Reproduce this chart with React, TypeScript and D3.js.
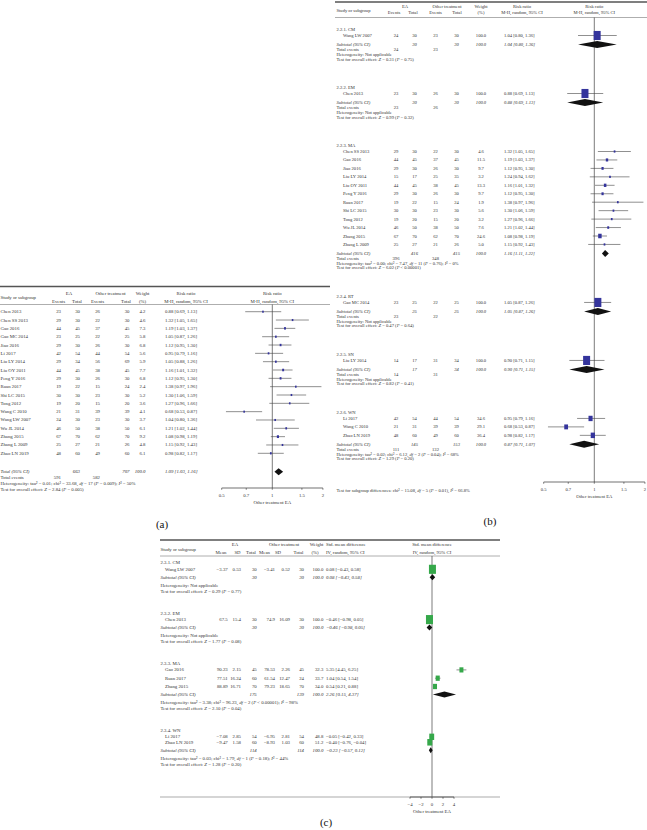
import React from "react";
import * as d3 from "d3";

const FONT = "'Liberation Serif', 'Times New Roman', Times, serif";
const INK = "#333";
const BLUE = "#34349c";
const GREEN = "#35a84a";

// ---------- (a) all studies, risk ratio ----------
const studiesA = ["Chen 2013", "Chen SS 2013", "Gao 2016", "Gao MC 2014", "Jiao 2016", "Li 2017", "Liu LY 2014", "Liu OY 2011", "Peng Y 2016", "Ruan 2017", "Shi LC 2015", "Tong 2012", "Wang C 2010", "Wang LW 2007", "Wu JL 2014", "Zhang 2015", "Zhang L 2009", "Zhao LN 2019"];
const eaEventsA = [23, 29, 44, 23, 29, 42, 29, 44, 29, 19, 30, 19, 21, 24, 46, 67, 25, 48];
const eaTotalA = [30, 30, 45, 25, 30, 54, 34, 45, 30, 22, 30, 20, 31, 30, 50, 70, 27, 60];
const otEventsA = [26, 22, 37, 22, 26, 44, 56, 38, 26, 15, 23, 15, 39, 23, 38, 62, 21, 49];
const otTotalA = [30, 30, 45, 25, 30, 54, 69, 45, 30, 24, 30, 20, 39, 30, 50, 70, 26, 60];
const weightA = [4.2, 4.6, 7.3, 5.8, 6.8, 5.6, 5.9, 7.7, 6.8, 2.4, 5.2, 3.6, 4.1, 3.7, 6.1, 9.2, 4.8, 6.1];
const rrA = [0.88, 1.32, 1.19, 1.05, 1.12, 0.95, 1.05, 1.16, 1.12, 1.38, 1.30, 1.27, 0.68, 1.04, 1.21, 1.08, 1.15, 0.98];
const loA = [0.69, 1.05, 1.03, 0.87, 0.95, 0.79, 0.88, 1.01, 0.95, 0.97, 1.06, 0.96, 0.53, 0.80, 1.02, 0.98, 0.92, 0.82];
const hiA = [1.13, 1.65, 1.37, 1.26, 1.30, 1.16, 1.26, 1.32, 1.30, 1.96, 1.59, 1.66, 0.87, 1.36, 1.44, 1.19, 1.43, 1.17];
const totalsA = [663, 707];
const totalEventsA = [591, 582];
const pooledA = [1.09, 1.03, 1.16];
const hetA = "Heterogeneity: tau² = 0.01; chi² = 33.68, df = 17 (P = 0.009); I² = 50%";
const testA = "Test for overall effect: Z = 2.84 (P = 0.005)";
const rrTicks = [0.5, 0.7, 1, 1.5, 2];

// ---------- (b) subgroups, risk ratio ----------
const groupsB = ["2.2.1. CM", "2.2.2. EM", "2.2.3. MA", "2.2.4. RT", "2.2.5. SN", "2.2.6. WN"];
const studiesB = [
  ["Wang LW 2007"],
  ["Chen 2013"],
  ["Chen SS 2013", "Gao 2016", "Jiao 2016", "Liu LY 2014", "Liu OY 2011", "Peng Y 2016", "Ruan 2017", "Shi LC 2015", "Tong 2012", "Wu JL 2014", "Zhang 2015", "Zhang L 2009"],
  ["Gao MC 2014"],
  ["Liu LY 2014"],
  ["Li 2017", "Wang C 2010", "Zhao LN 2019"],
];
const eaEventsB = [[24], [23], [29, 44, 29, 15, 44, 29, 19, 30, 19, 46, 67, 25], [23], [14], [42, 21, 48]];
const eaTotalB = [[30], [30], [30, 45, 30, 17, 45, 30, 22, 30, 20, 50, 70, 27], [25], [17], [54, 31, 60]];
const otEventsB = [[23], [26], [22, 37, 26, 25, 38, 26, 15, 23, 15, 38, 62, 21], [22], [31], [44, 39, 49]];
const otTotalB = [[30], [30], [30, 45, 30, 35, 45, 30, 24, 30, 20, 50, 70, 26], [25], [34], [54, 39, 60]];
const weightB = [[100], [100], [4.6, 11.5, 9.7, 3.2, 13.3, 9.7, 1.9, 5.6, 3.2, 7.6, 24.6, 5.0], [100], [100], [34.6, 29.1, 36.4]];
const rrB = [[1.04], [0.88], [1.32, 1.19, 1.12, 1.24, 1.16, 1.12, 1.38, 1.30, 1.27, 1.21, 1.08, 1.15], [1.05], [0.90], [0.95, 0.68, 0.98]];
const loB = [[0.80], [0.69], [1.05, 1.03, 0.95, 0.94, 1.01, 0.95, 0.97, 1.06, 0.96, 1.02, 0.98, 0.92], [0.87], [0.71], [0.79, 0.53, 0.82]];
const hiB = [[1.36], [1.13], [1.65, 1.37, 1.30, 1.62, 1.32, 1.30, 1.96, 1.59, 1.66, 1.44, 1.19, 1.43], [1.26], [1.15], [1.16, 0.87, 1.17]];
const subTotalsB = [[30, 30], [30, 30], [416, 415], [25, 25], [17, 34], [145, 153]];
const subEventsB = [[24, 23], [23, 26], [396, 348], [23, 22], [14, 31], [111, 132]];
const pooledB = [[1.04, 0.80, 1.36], [0.88, 0.69, 1.13], [1.16, 1.11, 1.22], [1.05, 0.87, 1.26], [0.90, 0.71, 1.15], [0.87, 0.71, 1.07]];
const hetB = [
  "Heterogeneity: Not applicable",
  "Heterogeneity: Not applicable",
  "Heterogeneity: tau² = 0.00; chi² = 7.47, df = 11 (P = 0.76); I² = 0%",
  "Heterogeneity: Not applicable",
  "Heterogeneity: Not applicable",
  "Heterogeneity: tau² = 0.02; chi² = 6.12, df = 2 (P = 0.04); I² = 68%",
];
const testB = [
  "Test for overall effect: Z = 0.31 (P = 0.75)",
  "Test for overall effect: Z = 0.99 (P = 0.32)",
  "Test for overall effect: Z = 6.02 (P < 0.00001)",
  "Test for overall effect: Z = 0.47 (P = 0.64)",
  "Test for overall effect: Z = 0.82 (P = 0.41)",
  "Test for overall effect: Z = 1.29 (P = 0.20)",
];
const subgroupDiffB = "Test for subgroup differences: chi² = 15.08, df = 5 (P = 0.01), I² = 66.8%";

// ---------- (c) subgroups, std. mean difference ----------
const groupsC = ["2.3.1. CM", "2.3.2. EM", "2.3.3. MA", "2.3.4. WN"];
const studiesC = [["Wang LW 2007"], ["Chen 2013"], ["Gao 2016", "Ruan 2017", "Zhang 2015"], ["Li 2017", "Zhao LN 2019"]];
const eaMeanC = [[-3.37], [67.5], [90.23, 77.51, 88.89], [-7.08, -9.47]];
const eaSdC = [[0.53], [15.4], [2.15, 16.24, 16.71], [2.85, 1.58]];
const eaNC = [[30], [30], [45, 60, 70], [54, 60]];
const otMeanC = [[-3.41], [74.9], [78.53, 61.54, 79.23], [-6.95, -8.93]];
const otSdC = [[0.52], [16.09], [2.26, 12.47, 18.65], [2.81, 1.03]];
const otNC = [[30], [30], [45, 24, 70], [54, 60]];
const weightC = [[100], [100], [32.3, 33.7, 34.0], [48.8, 51.2]];
const smdC = [[0.08], [-0.46], [5.35, 1.04, 0.54], [-0.05, -0.40]];
const loC = [[-0.43], [-0.98], [4.45, 0.54, 0.21], [-0.42, -0.76]];
const hiC = [[0.58], [0.05], [6.25, 1.54, 0.88], [0.33, -0.04]];
const subTotalsC = [[30, 30], [30, 30], [175, 139], [114, 114]];
const pooledC = [[0.08, -0.43, 0.58], [-0.46, -0.98, 0.05], [2.26, 0.15, 4.37], [-0.23, -0.57, 0.12]];
const hetC = [
  "Heterogeneity: Not applicable",
  "Heterogeneity: Not applicable",
  "Heterogeneity: tau² = 3.38; chi² = 96.23, df = 2 (P < 0.00001); I² = 98%",
  "Heterogeneity: tau² = 0.03; chi² = 1.79, df = 1 (P = 0.18); I² = 44%",
];
const testC = [
  "Test for overall effect: Z = 0.29 (P = 0.77)",
  "Test for overall effect: Z = 1.77 (P = 0.08)",
  "Test for overall effect: Z = 2.10 (P = 0.04)",
  "Test for overall effect: Z = 1.28 (P = 0.20)",
];
const smdTicks = [-4, -2, 0, 2, 4];

const f2 = d3.format(".2f");
const f1 = d3.format(".1f");
const num = (v: number) => String(v).replace("-", "\u2212");
const ci = (e: number, l: number, h: number) => `${f2(e)} [${f2(l)}, ${f2(h)}]`;

type Anchor = "start" | "middle" | "end";
const Tx = ({ x, y, s, a = "start", it = false, children }: { x: number; y: number; s: number; a?: Anchor; it?: boolean; children: React.ReactNode }) => (
  <text x={x} y={y} fontSize={s} textAnchor={a} dominantBaseline="central" fontStyle={it ? "italic" : "normal"} fill={INK}>
    {children}
  </text>
);

// stat lines: df, Z, P and I are set in italics
const ITAL = /(\bdf\b|\bZ\b|\bP\b|\bI(?=²))/;
const Stat = ({ x, y, s, text }: { x: number; y: number; s: number; text: string }) => (
  <text x={x} y={y} fontSize={s} dominantBaseline="central" fill={INK}>
    {text.split(ITAL).map((p, i) => (
      <tspan key={i} fontStyle={i % 2 ? "italic" : "normal"}>{p}</tspan>
    ))}
  </text>
);

const Mark = ({ x, y, est, lo, hi, size, color }: any) => (
  <g>
    <line x1={x(lo)} x2={x(hi)} y1={y} y2={y} stroke="#444" strokeWidth={0.6} />
    <rect x={x(est) - size / 2} y={y - size * 0.65} width={size} height={size * 1.3} fill={color} />
  </g>
);

const Diamond = ({ x, y, est, lo, hi, h }: any) => (
  <path d={`M${x(lo)},${y}L${x(est)},${y - h / 2}L${x(hi)},${y}L${x(est)},${y + h / 2}Z`} fill="#111" />
);

const Axis = ({ x, y, ticks, fmt, s, mid }: any) => (
  <g>
    <line x1={x(ticks[0])} x2={x(ticks[ticks.length - 1])} y1={y} y2={y} stroke="#333" strokeWidth={0.7} />
    {ticks.map((t: number) => (
      <g key={t}>
        <line x1={x(t)} x2={x(t)} y1={y} y2={y + 1.8} stroke="#333" strokeWidth={0.6} />
        <Tx x={x(t)} y={y + 7.5} s={s} a="middle">{fmt(t)}</Tx>
      </g>
    ))}
    <Tx x={x(mid)} y={y + 14.5} s={s} a="middle">Other treatment EA</Tx>
  </g>
);

function PanelA() {
  const s = 4.8;
  const x = d3.scaleLog().domain([0.5, 2]).range([221.7, 322.9]);
  const y = (i: number) => 311.7 + 8.33 * i;
  const c = { ev1: 61, tot1: 80, ev2: 100, tot2: 129.5, w: 145.5, ci: 165 };
  const yTot = 471.7;
  return (
    <g>
      <line x1={0} x2={330} y1={286.5} y2={286.5} stroke="#555" strokeWidth={1.6} />
      <line x1={0} x2={330} y1={304.5} y2={304.5} stroke="#999" strokeWidth={0.8} />
      <Tx x={0.5} y={297.7} s={s}>Study or subgroup</Tx>
      <Tx x={69} y={293} s={s} a="middle">EA</Tx>
      <Tx x={58.5} y={301} s={s} a="middle">Events</Tx>
      <Tx x={77} y={301} s={s} a="middle">Total</Tx>
      <Tx x={110.5} y={293} s={s} a="middle">Other treatment</Tx>
      <Tx x={97.5} y={301} s={s} a="middle">Events</Tx>
      <Tx x={126} y={301} s={s} a="middle">Total</Tx>
      <Tx x={142.5} y={293} s={s} a="middle">Weight</Tx>
      <Tx x={142.5} y={301} s={s} a="middle">(%)</Tx>
      <Tx x={186} y={293} s={s} a="middle">Risk ratio</Tx>
      <Tx x={186} y={301} s={s} a="middle">M-H, random, 95% CI</Tx>
      <Tx x={x(1)} y={293} s={s} a="middle">Risk ratio</Tx>
      <Tx x={x(1)} y={301} s={s} a="middle">M-H, random, 95% CI</Tx>
      <line x1={x(1)} x2={x(1)} y1={304.5} y2={488} stroke="#444" strokeWidth={0.7} />
      {studiesA.map((name, i) => (
        <g key={name}>
          <Tx x={0.5} y={y(i)} s={s}>{name}</Tx>
          <Tx x={c.ev1} y={y(i)} s={s} a="end">{eaEventsA[i]}</Tx>
          <Tx x={c.tot1} y={y(i)} s={s} a="end">{eaTotalA[i]}</Tx>
          <Tx x={c.ev2} y={y(i)} s={s} a="end">{otEventsA[i]}</Tx>
          <Tx x={c.tot2} y={y(i)} s={s} a="end">{otTotalA[i]}</Tx>
          <Tx x={c.w} y={y(i)} s={s} a="end">{f1(weightA[i])}</Tx>
          <Tx x={c.ci} y={y(i)} s={s}>{ci(rrA[i], loA[i], hiA[i])}</Tx>
          <Mark x={x} y={y(i)} est={rrA[i]} lo={loA[i]} hi={hiA[i]} size={Math.max(1.6, 7 * Math.sqrt(weightA[i] / 100))} color={BLUE} />
        </g>
      ))}
      <Tx x={0.5} y={yTot} s={s} it>Total (95% CI)</Tx>
      <Tx x={c.tot1} y={yTot} s={s} a="end" it>{totalsA[0]}</Tx>
      <Tx x={c.tot2} y={yTot} s={s} a="end" it>{totalsA[1]}</Tx>
      <Tx x={c.w} y={yTot} s={s} a="end" it>100.0</Tx>
      <Tx x={c.ci} y={yTot} s={s} it>{ci(pooledA[0], pooledA[1], pooledA[2])}</Tx>
      <Diamond x={x} y={yTot} est={pooledA[0]} lo={pooledA[1]} hi={pooledA[2]} h={7} />
      <Tx x={0.5} y={477.7} s={s}>Total events</Tx>
      <Tx x={c.ev1} y={477.7} s={s} a="end">{totalEventsA[0]}</Tx>
      <Tx x={c.ev2} y={477.7} s={s} a="end">{totalEventsA[1]}</Tx>
      <Stat x={0.5} y={483.3} s={s} text={hetA} />
      <Stat x={0.5} y={488.9} s={s} text={testA} />
      <Axis x={x} y={488} ticks={rrTicks} fmt={String} s={s} mid={1} />
      <text x={162} y={524} fontSize={11} textAnchor="middle" dominantBaseline="central" fill="#111">(a)</text>
    </g>
  );
}

function PanelB() {
  const s = 4.6;
  const x = d3.scaleLog().domain([0.5, 2]).range([543.7, 644.9]);
  const c = { ev1: 396, tot1: 414.5, ev2: 435.5, tot2: 456.5, w: 481, ci: 504 };
  const blocks: any[] = [];
  let cy = 29.5;
  groupsB.forEach((g, gi) => {
    const ys = studiesB[gi].map((_, i) => cy + 6 + 8.45 * i);
    const sub = ys[ys.length - 1] + 9;
    blocks.push({ g, gi, head: cy, ys, sub });
    cy = sub + 14 + 29;
  });
  return (
    <g>
      <line x1={335} x2={647} y1={2} y2={2} stroke="#555" strokeWidth={1.6} />
      <line x1={335} x2={647} y1={17.5} y2={17.5} stroke="#999" strokeWidth={0.8} />
      <Tx x={336.5} y={10} s={s}>Study or subgroup</Tx>
      <Tx x={405} y={6.5} s={s} a="middle">EA</Tx>
      <Tx x={394} y={12.7} s={s} a="middle">Events</Tx>
      <Tx x={413} y={12.7} s={s} a="middle">Total</Tx>
      <Tx x={447} y={6.5} s={s} a="middle">Other treatment</Tx>
      <Tx x={435.5} y={12.7} s={s} a="middle">Events</Tx>
      <Tx x={457} y={12.7} s={s} a="middle">Total</Tx>
      <Tx x={481} y={6.5} s={s} a="middle">Weight</Tx>
      <Tx x={481} y={12.7} s={s} a="middle">(%)</Tx>
      <Tx x={522} y={6.5} s={s} a="middle">Risk ratio</Tx>
      <Tx x={522} y={12.7} s={s} a="middle">M-H, random, 95% CI</Tx>
      <Tx x={x(1)} y={6.5} s={s} a="middle">Risk ratio</Tx>
      <Tx x={x(1)} y={12.7} s={s} a="middle">M-H, random, 95% CI</Tx>
      <line x1={x(1)} x2={x(1)} y1={17.5} y2={482} stroke="#444" strokeWidth={0.7} />
      {blocks.map(({ g, gi, head, ys, sub }) => (
        <g key={g}>
          <Tx x={336.5} y={head} s={s}>{g}</Tx>
          {studiesB[gi].map((name, i) => (
            <g key={name}>
              <Tx x={343} y={ys[i]} s={s}>{name}</Tx>
              <Tx x={c.ev1} y={ys[i]} s={s} a="middle">{eaEventsB[gi][i]}</Tx>
              <Tx x={c.tot1} y={ys[i]} s={s} a="middle">{eaTotalB[gi][i]}</Tx>
              <Tx x={c.ev2} y={ys[i]} s={s} a="middle">{otEventsB[gi][i]}</Tx>
              <Tx x={c.tot2} y={ys[i]} s={s} a="middle">{otTotalB[gi][i]}</Tx>
              <Tx x={c.w} y={ys[i]} s={s} a="middle">{f1(weightB[gi][i])}</Tx>
              <Tx x={c.ci} y={ys[i]} s={s}>{ci(rrB[gi][i], loB[gi][i], hiB[gi][i])}</Tx>
              <Mark x={x} y={ys[i]} est={rrB[gi][i]} lo={loB[gi][i]} hi={hiB[gi][i]} size={Math.max(1.7, 7 * Math.sqrt(weightB[gi][i] / 100))} color={BLUE} />
            </g>
          ))}
          <Tx x={336.5} y={sub} s={s} it>Subtotal (95% CI)</Tx>
          <Tx x={c.tot1} y={sub} s={s} a="middle" it>{subTotalsB[gi][0]}</Tx>
          <Tx x={c.tot2} y={sub} s={s} a="middle" it>{subTotalsB[gi][1]}</Tx>
          <Tx x={c.w} y={sub} s={s} a="middle" it>100.0</Tx>
          <Tx x={c.ci} y={sub} s={s} it>{ci(pooledB[gi][0], pooledB[gi][1], pooledB[gi][2])}</Tx>
          <Diamond x={x} y={sub} est={pooledB[gi][0]} lo={pooledB[gi][1]} hi={pooledB[gi][2]} h={7} />
          <Tx x={336.5} y={sub + 5} s={s}>Total events</Tx>
          <Tx x={c.ev1} y={sub + 5} s={s} a="middle">{subEventsB[gi][0]}</Tx>
          <Tx x={c.ev2} y={sub + 5} s={s} a="middle">{subEventsB[gi][1]}</Tx>
          <Stat x={336.5} y={sub + 9.5} s={s} text={hetB[gi]} />
          <Stat x={336.5} y={sub + 14} s={s} text={testB[gi]} />
        </g>
      ))}
      <Stat x={336.5} y={489.5} s={s} text={subgroupDiffB} />
      <Axis x={x} y={482} ticks={rrTicks} fmt={String} s={s} mid={1} />
      <text x={490} y={521} fontSize={11} textAnchor="middle" dominantBaseline="central" fill="#111">(b)</text>
    </g>
  );
}

function PanelC() {
  const s = 4.8;
  const x = d3.scaleLinear().domain([-4, 4]).range([410, 454]);
  const c = { m1: 227.7, sd1: 241, n1: 256.7, m2: 275, sd2: 290, n2: 304, w: 323.3, ci: 326 };
  const stepC = [8.3, 8.3, 8.3, 5.5];
  const blocks: any[] = [];
  let cy = 562.7;
  groupsC.forEach((g, gi) => {
    const ys = studiesC[gi].map((_, i) => cy + 6.6 + stepC[gi] * i);
    const sub = ys[ys.length - 1] + 8;
    blocks.push({ g, gi, head: cy, ys, sub });
    cy = sub + 13.2 + 22.5;
  });
  const fmtTick = d3.format("d");
  return (
    <g>
      <line x1={160} x2={500} y1={540} y2={540} stroke="#555" strokeWidth={1.6} />
      <line x1={160} x2={500} y1={556} y2={556} stroke="#999" strokeWidth={0.8} />
      <Tx x={160.5} y={549} s={s}>Study or subgroup</Tx>
      <Tx x={235} y={544.3} s={s} a="middle">EA</Tx>
      <Tx x={221} y={552.7} s={s} a="middle">Mean</Tx>
      <Tx x={237.5} y={552.7} s={s} a="middle">SD</Tx>
      <Tx x={251} y={552.7} s={s} a="middle">Total</Tx>
      <Tx x={284} y={544.3} s={s} a="middle">Other treatment</Tx>
      <Tx x={264.5} y={552.7} s={s} a="middle">Mean</Tx>
      <Tx x={278} y={552.7} s={s} a="middle">SD</Tx>
      <Tx x={298.5} y={552.7} s={s} a="middle">Total</Tx>
      <Tx x={316.5} y={544.3} s={s} a="middle">Weight</Tx>
      <Tx x={315} y={552.7} s={s} a="middle">(%)</Tx>
      <Tx x={326} y={544.3} s={s}>Std. mean difference</Tx>
      <Tx x={326} y={552.7} s={s}>IV, random, 95% CI</Tx>
      <Tx x={x(0)} y={544.3} s={s} a="middle">Std. mean difference</Tx>
      <Tx x={x(0)} y={552.7} s={s} a="middle">IV, random, 95% CI</Tx>
      <line x1={x(0)} x2={x(0)} y1={556} y2={797} stroke="#444" strokeWidth={0.7} />
      {blocks.map(({ g, gi, head, ys, sub }) => (
        <g key={g}>
          <Tx x={160.5} y={head} s={s}>{g}</Tx>
          {studiesC[gi].map((name, i) => (
            <g key={name}>
              <Tx x={165} y={ys[i]} s={s}>{name}</Tx>
              <Tx x={c.m1} y={ys[i]} s={s} a="end">{num(eaMeanC[gi][i])}</Tx>
              <Tx x={c.sd1} y={ys[i]} s={s} a="end">{num(eaSdC[gi][i])}</Tx>
              <Tx x={c.n1} y={ys[i]} s={s} a="end">{eaNC[gi][i]}</Tx>
              <Tx x={c.m2} y={ys[i]} s={s} a="end">{num(otMeanC[gi][i])}</Tx>
              <Tx x={c.sd2} y={ys[i]} s={s} a="end">{num(otSdC[gi][i])}</Tx>
              <Tx x={c.n2} y={ys[i]} s={s} a="end">{otNC[gi][i]}</Tx>
              <Tx x={c.w} y={ys[i]} s={s} a="end">{f1(weightC[gi][i])}</Tx>
              <Tx x={c.ci} y={ys[i]} s={s}>{ci(smdC[gi][i], loC[gi][i], hiC[gi][i])}</Tx>
              <Mark x={x} y={ys[i]} est={smdC[gi][i]} lo={loC[gi][i]} hi={hiC[gi][i]} size={7 * Math.sqrt(weightC[gi][i] / 100)} color={GREEN} />
            </g>
          ))}
          <Tx x={160.5} y={sub} s={s} it>Subtotal (95% CI)</Tx>
          <Tx x={c.n1} y={sub} s={s} a="end" it>{subTotalsC[gi][0]}</Tx>
          <Tx x={c.n2} y={sub} s={s} a="end" it>{subTotalsC[gi][1]}</Tx>
          <Tx x={c.w} y={sub} s={s} a="end" it>100.0</Tx>
          <Tx x={c.ci} y={sub} s={s} it>{ci(pooledC[gi][0], pooledC[gi][1], pooledC[gi][2])}</Tx>
          <Diamond x={x} y={sub} est={pooledC[gi][0]} lo={pooledC[gi][1]} hi={pooledC[gi][2]} h={6} />
          <Stat x={160.5} y={sub + 7.2} s={s} text={hetC[gi]} />
          <Stat x={160.5} y={sub + 13.2} s={s} text={testC[gi]} />
        </g>
      ))}
      <line x1={160} x2={500} y1={797} y2={797} stroke="#888" strokeWidth={0.7} />
      <Axis x={x} y={797} ticks={smdTicks} fmt={fmtTick} s={s} mid={0} />
      <text x={326} y={822} fontSize={11} textAnchor="middle" dominantBaseline="central" fill="#111">(c)</text>
    </g>
  );
}

export default function App() {
  return (
    <svg width={647} height={830} viewBox="0 0 647 830" fontFamily={FONT} style={{ position: "absolute", left: 0, top: 0, background: "#fff" }}>
      <rect width={647} height={830} fill="#fff" />
      <PanelA />
      <PanelB />
      <PanelC />
    </svg>
  );
}
